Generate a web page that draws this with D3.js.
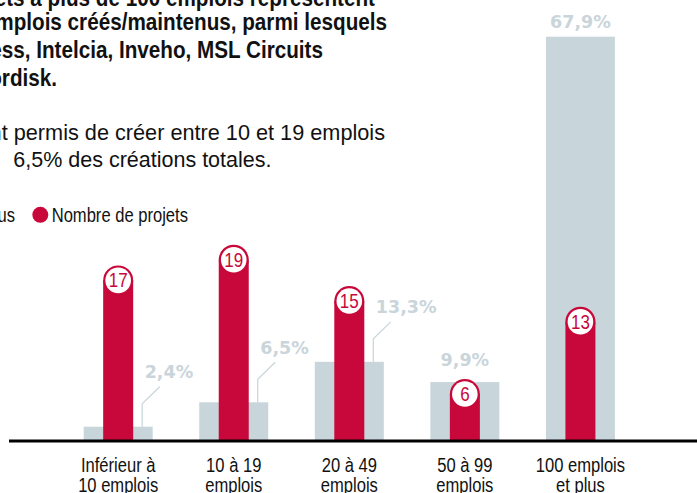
<!DOCTYPE html>
<html><head><meta charset="utf-8">
<script src="https://cdn.jsdelivr.net/npm/d3@7"></script>
<style>
html,body{margin:0;padding:0;background:#fff;overflow:hidden;}
svg{display:block;}
</style></head>
<body>
<script>
// ---- data ----
const categories = ["Inférieur à 10 emplois", "10 à 19 emplois", "20 à 49 emplois", "50 à 99 emplois", "100 emplois et plus"];
const categoryLines = [["Inférieur à", "10 emplois"], ["10 à 19", "emplois"], ["20 à 49", "emplois"], ["50 à 99", "emplois"], ["100 emplois", "et plus"]];
const emploisShare = [2.4, 6.5, 13.3, 9.9, 67.9];   // % des emplois créés/maintenus
const nbProjets = [17, 19, 15, 6, 13];              // nombre de projets
const titleLines = ["Les projets à plus de 100 emplois représentent", "67,9% des emplois créés/maintenus, parmi lesquels", "Lear, Access, Intelcia, Inveho, MSL Circuits", "et Novo Nordisk."];
const subtitleLines = ["Les projets de 10 à 19 emplois ont permis de créer entre 10 et 19 emplois", "6,5% des créations totales."];
const legendLabels = ["Emplois créés/maintenus", "Nombre de projets"];

// ---- layout / style ----
const W = 697, H = 493;
const RED = "#c8083a", GREY = "#c8d5da", GREYTXT = "#c9d5da";
const SANS = "'Liberation Sans',Arial,sans-serif";
const frFmt = d3.formatLocale({decimal: ",", thousands: " ", grouping: [3], currency: ["", " €"]}).format(".1f");

const svg = d3.select("body").append("svg").attr("width", W).attr("height", H);

// condensed look: Liberation Sans squeezed horizontally
function narrow(parent, txt, x0, y0, opts) {
  const o = Object.assign({anchor: "start", size: 19.5, weight: "normal", fill: "#111", sq: 0.85}, opts || {});
  return parent.append("text")
    .attr("transform", `translate(${x0},${y0}) scale(${o.sq},1)`)
    .attr("text-anchor", o.anchor)
    .style("font-family", SANS).style("font-size", o.size + "px").style("font-weight", o.weight)
    .attr("fill", o.fill).text(txt);
}

const x = d3.scaleBand().domain(categories).range([60.4, 638.2]).paddingInner(0.403).paddingOuter(0.2015);
const yShare = d3.scaleLinear().domain([0, 70]).range([441, 441 - 70 * 5.954]);
const yProj = d3.scaleLinear().domain([0, 20]).range([441, 441 - 20 * 10.33]);
const redW = 30, rr = 15;

// title
const tEnd = [375, 387, 323, 57], tBase = [6, 29.5, 57.5, 85.5];
titleLines.forEach((t, i) => narrow(svg, t, tEnd[i], tBase[i], {anchor: "end", size: 23.5, weight: "bold", sq: 0.88}));

// subtitle
svg.append("text").attr("x", 385).attr("y", 139.5).attr("text-anchor", "end")
  .style("font-family", SANS).style("font-size", "21.7px").attr("fill", "#111")
  .text(subtitleLines[0]);
svg.append("text").attr("x", 13.3).attr("y", 167.3)
  .style("font-family", SANS).style("font-size", "21.5px").attr("fill", "#111")
  .text(subtitleLines[1]);

// legend
svg.append("rect").attr("x", -180).attr("y", 207).attr("width", 15).attr("height", 15).attr("fill", GREY);
narrow(svg, legendLabels[0], 15, 221.7, {anchor: "end"});
svg.append("circle").attr("cx", 40.3).attr("cy", 214.8).attr("r", 8).attr("fill", RED);
narrow(svg, legendLabels[1], 51.7, 221.7);

// grey bars
const rows = categories.map((c, i) => ({c, i, share: emploisShare[i], proj: nbProjets[i], lines: categoryLines[i]}));
svg.append("g").selectAll("rect").data(rows).join("rect")
  .attr("x", d => x(d.c)).attr("width", x.bandwidth())
  .attr("y", d => yShare(d.share)).attr("height", d => yShare(0) - yShare(d.share))
  .attr("fill", GREY);

// red bars (rounded top with number disc)
const rg = svg.append("g").selectAll("g").data(rows).join("g")
  .attr("transform", d => `translate(${x(d.c) + x.bandwidth() / 2},0)`);
rg.append("rect").attr("x", -redW / 2).attr("width", redW)
  .attr("y", d => yProj(d.proj) + rr).attr("height", d => yProj(0) - yProj(d.proj) - rr)
  .attr("fill", RED);
rg.append("circle").attr("cy", d => yProj(d.proj) + rr).attr("r", rr).attr("fill", RED);
rg.append("circle").attr("cy", d => yProj(d.proj) + rr).attr("r", 12.8).attr("fill", "#fff");
rg.each(function (d) {
  narrow(d3.select(this), d.proj, 0, yProj(d.proj) + rr + 7, {anchor: "middle", size: 20, fill: RED});
});

// share labels
const lblStyle = s => s.style("font-family", "'DejaVu Sans',sans-serif").style("font-weight", "bold")
  .style("font-size", "17.5px").attr("fill", GREYTXT);
rows.forEach(d => {
  const top = yShare(d.share);
  const cx = x(d.c) + x.bandwidth() / 2;
  if (d.i < 3) {
    const lx = x(d.c) + x.bandwidth() - 10.5;
    const ex = lx + 17.5, ey = top - 23 - 17;
    svg.append("path").attr("d", `M${lx},${top}V${top - 23}L${ex},${ey}`)
      .attr("fill", "none").attr("stroke", GREY).attr("stroke-width", 1.2);
    svg.append("text").attr("x", ex - 15).attr("y", ey - 8.5).call(lblStyle).text(frFmt(d.share) + "%");
  } else {
    const refTop = Math.min(top, yProj(d.proj));
    const gap = d.share < 20 ? 12.6 : 8.4;
    svg.append("text").attr("x", cx).attr("y", refTop - gap).attr("text-anchor", "middle")
      .call(lblStyle).text(frFmt(d.share) + "%");
  }
});

// baseline
svg.append("line").attr("x1", 9).attr("x2", W).attr("y1", 441).attr("y2", 441)
  .attr("stroke", "#000").attr("stroke-width", 3);

// category labels
rows.forEach(d => {
  const cx = x(d.c) + x.bandwidth() / 2;
  d.lines.forEach((t, k) => narrow(svg, t, cx, 471.7 + k * 20.5, {anchor: "middle", size: 19.5}));
});
</script>
</body></html>
